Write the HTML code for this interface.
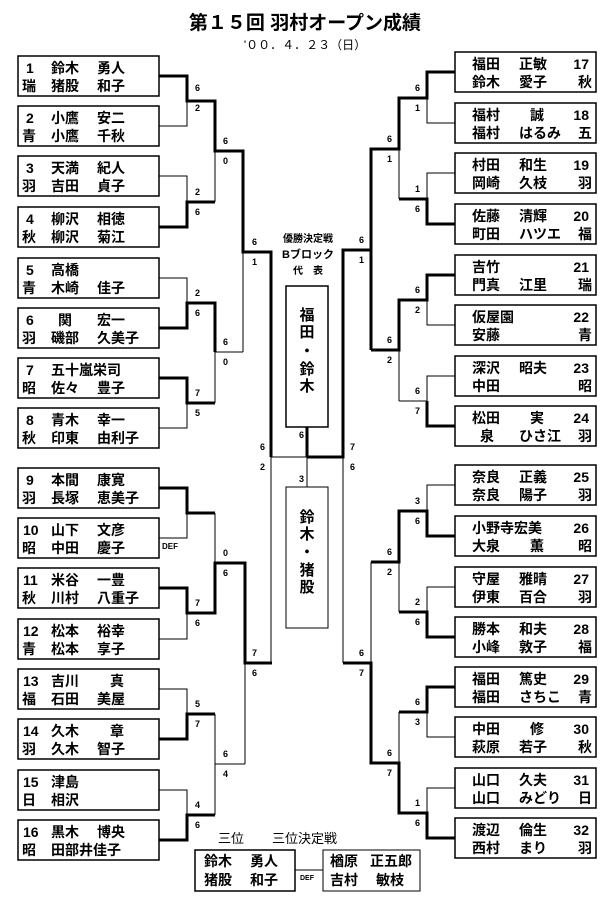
<!DOCTYPE html>
<html><head><meta charset="utf-8"><style>
html,body{margin:0;padding:0;background:#fff;}
svg{display:block;}
text{font-family:"Liberation Sans","Noto Sans CJK JP",sans-serif;fill:#000;}
.n{font-size:14px;font-weight:bold;}
.s{font-size:9px;font-weight:bold;}
.b{fill:none;stroke:#000;stroke-width:1.5;}
.t{fill:none;stroke:#000;stroke-width:1;}
.k{fill:none;stroke:#000;stroke-width:3;}
</style></head><body>
<svg width="615" height="903" viewBox="0 0 615 903" xmlns="http://www.w3.org/2000/svg">
<text x="305" y="29" text-anchor="middle" style="font-size:19px;font-weight:bold;">第１５回 羽村オープン成績</text>
<text x="305" y="49" text-anchor="middle" style="font-size:12px;">'００．４．２３（日）</text>

<!-- left boxes -->
<g class="b">
<rect x="18" y="56" width="141" height="40"/><rect x="18" y="106" width="141" height="40"/>
<rect x="18" y="156" width="141" height="40"/><rect x="18" y="207" width="141" height="40"/>
<rect x="18" y="258" width="141" height="40"/><rect x="18" y="308" width="141" height="40"/>
<rect x="18" y="358" width="141" height="40"/><rect x="18" y="408" width="141" height="40"/>
<rect x="18" y="468" width="141" height="40"/><rect x="18" y="518" width="141" height="40"/>
<rect x="18" y="568" width="141" height="40"/><rect x="18" y="619" width="141" height="40"/>
<rect x="18" y="669" width="141" height="40"/><rect x="18" y="719" width="141" height="40"/>
<rect x="18" y="770" width="141" height="40"/><rect x="18" y="820" width="141" height="40"/>
</g>
<g class="b">
<rect x="455" y="52" width="141" height="40"/><rect x="455" y="103" width="141" height="40"/>
<rect x="455" y="153" width="141" height="40"/><rect x="455" y="204" width="141" height="40"/>
<rect x="455" y="255" width="141" height="40"/><rect x="455" y="305" width="141" height="40"/>
<rect x="455" y="356" width="141" height="40"/><rect x="455" y="406" width="141" height="40"/>
<rect x="455" y="465" width="141" height="40"/><rect x="455" y="516" width="141" height="40"/>
<rect x="455" y="567" width="141" height="40"/><rect x="455" y="617" width="141" height="40"/>
<rect x="455" y="667" width="141" height="40"/><rect x="455" y="717" width="141" height="40"/>
<rect x="455" y="768" width="141" height="40"/><rect x="455" y="818" width="141" height="40"/>
</g>

<!-- left text -->
<g class="n">
<text x="26" y="73">1</text><text x="51" y="73">鈴木</text><text x="97" y="73">勇人</text>
<text x="22" y="91">瑞</text><text x="51" y="91">猪股</text><text x="97" y="91">和子</text>
<text x="26" y="123">2</text><text x="51" y="123">小鷹</text><text x="97" y="123">安二</text>
<text x="22" y="141">青</text><text x="51" y="141">小鷹</text><text x="97" y="141">千秋</text>
<text x="26" y="173">3</text><text x="51" y="173">天満</text><text x="97" y="173">紀人</text>
<text x="22" y="191">羽</text><text x="51" y="191">吉田</text><text x="97" y="191">貞子</text>
<text x="26" y="224">4</text><text x="51" y="224">柳沢</text><text x="97" y="224">相徳</text>
<text x="22" y="242">秋</text><text x="51" y="242">柳沢</text><text x="97" y="242">菊江</text>
<text x="26" y="275">5</text><text x="51" y="275">高橋</text>
<text x="22" y="293">青</text><text x="51" y="293">木崎</text><text x="97" y="293">佳子</text>
<text x="26" y="325">6</text><text x="58" y="325">関</text><text x="97" y="325">宏一</text>
<text x="22" y="343">羽</text><text x="51" y="343">磯部</text><text x="97" y="343">久美子</text>
<text x="26" y="375">7</text><text x="51" y="375">五十嵐栄司</text>
<text x="22" y="393">昭</text><text x="51" y="393">佐々</text><text x="97" y="393">豊子</text>
<text x="26" y="425">8</text><text x="51" y="425">青木</text><text x="97" y="425">幸一</text>
<text x="22" y="443">秋</text><text x="51" y="443">印東</text><text x="97" y="443">由利子</text>
<text x="26" y="485">9</text><text x="51" y="485">本間</text><text x="97" y="485">康寛</text>
<text x="22" y="503">羽</text><text x="51" y="503">長塚</text><text x="97" y="503">恵美子</text>
<text x="23" y="535">10</text><text x="51" y="535">山下</text><text x="97" y="535">文彦</text>
<text x="22" y="553">昭</text><text x="51" y="553">中田</text><text x="97" y="553">慶子</text>
<text x="23" y="585">11</text><text x="51" y="585">米谷</text><text x="97" y="585">一豊</text>
<text x="22" y="603">秋</text><text x="51" y="603">川村</text><text x="97" y="603">八重子</text>
<text x="23" y="636">12</text><text x="51" y="636">松本</text><text x="97" y="636">裕幸</text>
<text x="22" y="654">青</text><text x="51" y="654">松本</text><text x="97" y="654">享子</text>
<text x="23" y="686">13</text><text x="51" y="686">吉川</text><text x="110" y="686">真</text>
<text x="22" y="704">福</text><text x="51" y="704">石田</text><text x="97" y="704">美屋</text>
<text x="23" y="736">14</text><text x="51" y="736">久木</text><text x="110" y="736">章</text>
<text x="22" y="754">羽</text><text x="51" y="754">久木</text><text x="97" y="754">智子</text>
<text x="23" y="787">15</text><text x="51" y="787">津島</text>
<text x="22" y="805">日</text><text x="51" y="805">相沢</text>
<text x="23" y="837">16</text><text x="51" y="837">黒木</text><text x="97" y="837">博央</text>
<text x="22" y="855">昭</text><text x="51" y="855">田部井佳子</text>
</g>

<!-- right text -->
<g class="n">
<text x="472" y="69">福田</text><text x="519" y="69">正敏</text><text x="589" y="69" text-anchor="end">17</text>
<text x="472" y="87">鈴木</text><text x="519" y="87">愛子</text><text x="578" y="87">秋</text>
<text x="472" y="120">福村</text><text x="530" y="120">誠</text><text x="589" y="120" text-anchor="end">18</text>
<text x="472" y="138">福村</text><text x="519" y="138">はるみ</text><text x="578" y="138">五</text>
<text x="472" y="170">村田</text><text x="519" y="170">和生</text><text x="589" y="170" text-anchor="end">19</text>
<text x="472" y="188">岡崎</text><text x="519" y="188">久枝</text><text x="578" y="188">羽</text>
<text x="472" y="221">佐藤</text><text x="519" y="221">清輝</text><text x="589" y="221" text-anchor="end">20</text>
<text x="472" y="239">町田</text><text x="519" y="239">ハツエ</text><text x="578" y="239">福</text>
<text x="472" y="272">吉竹</text><text x="589" y="272" text-anchor="end">21</text>
<text x="472" y="290">門真</text><text x="519" y="290">江里</text><text x="578" y="290">瑞</text>
<text x="472" y="322">仮屋園</text><text x="589" y="322" text-anchor="end">22</text>
<text x="472" y="340">安藤</text><text x="578" y="340">青</text>
<text x="472" y="373">深沢</text><text x="519" y="373">昭夫</text><text x="589" y="373" text-anchor="end">23</text>
<text x="472" y="391">中田</text><text x="578" y="391">昭</text>
<text x="472" y="423">松田</text><text x="530" y="423">実</text><text x="589" y="423" text-anchor="end">24</text>
<text x="480" y="441">泉</text><text x="519" y="441">ひさ江</text><text x="578" y="441">羽</text>
<text x="472" y="482">奈良</text><text x="519" y="482">正義</text><text x="589" y="482" text-anchor="end">25</text>
<text x="472" y="500">奈良</text><text x="519" y="500">陽子</text><text x="578" y="500">羽</text>
<text x="472" y="533">小野寺宏美</text><text x="589" y="533" text-anchor="end">26</text>
<text x="472" y="551">大泉</text><text x="530" y="551">薫</text><text x="578" y="551">昭</text>
<text x="472" y="584">守屋</text><text x="519" y="584">雅晴</text><text x="589" y="584" text-anchor="end">27</text>
<text x="472" y="602">伊東</text><text x="519" y="602">百合</text><text x="578" y="602">羽</text>
<text x="472" y="634">勝本</text><text x="519" y="634">和夫</text><text x="589" y="634" text-anchor="end">28</text>
<text x="472" y="652">小峰</text><text x="519" y="652">敦子</text><text x="578" y="652">福</text>
<text x="472" y="684">福田</text><text x="519" y="684">篤史</text><text x="589" y="684" text-anchor="end">29</text>
<text x="472" y="702">福田</text><text x="519" y="702">さちこ</text><text x="578" y="702">青</text>
<text x="472" y="734">中田</text><text x="530" y="734">修</text><text x="589" y="734" text-anchor="end">30</text>
<text x="472" y="752">萩原</text><text x="519" y="752">若子</text><text x="578" y="752">秋</text>
<text x="472" y="785">山口</text><text x="519" y="785">久夫</text><text x="589" y="785" text-anchor="end">31</text>
<text x="472" y="803">山口</text><text x="519" y="803">みどり</text><text x="578" y="803">日</text>
<text x="472" y="835">渡辺</text><text x="519" y="835">倫生</text><text x="589" y="835" text-anchor="end">32</text>
<text x="472" y="853">西村</text><text x="519" y="853">まり</text><text x="578" y="853">羽</text>
</g>

<!-- left bracket lines -->
<g class="t">
<path d="M159 126H187V101"/><path d="M159 176H187V202"/><path d="M159 278H187V303"/>
<path d="M159 428H187V403"/><path d="M159 538H187V513"/><path d="M159 639H187V613"/>
<path d="M159 689H187V714"/><path d="M159 790H187V815"/>
<path d="M215 151V202"/><path d="M215 352V403"/><path d="M215 352H243"/>
<path d="M215 513V563"/><path d="M215 714V815"/><path d="M215 764H245"/>
<path d="M243 252V352"/><path d="M245 663V764"/>
<path d="M271 457V663"/><path d="M271 457H307"/>
</g>
<g class="k">
<path d="M159 76H187V101H215V151H243V252H271V457"/>
<path d="M159 227H187V202H215"/>
<path d="M159 328H187V303H215V352"/>
<path d="M159 378H187V403H215"/>
<path d="M159 488H187V513H215"/>
<path d="M159 588H187V613H215V563H245V663H272"/>
<path d="M159 739H187V714H215"/>
<path d="M159 840H187V815H215"/>
</g>

<!-- right bracket lines -->
<g class="t">
<path d="M455 123H427V98"/><path d="M455 173H427V199"/><path d="M455 325H427V300"/>
<path d="M455 376H427V401H399"/><path d="M455 485H427V511"/><path d="M455 587H427V612"/>
<path d="M455 737H427V712"/><path d="M455 788H427V813"/>
<path d="M399 149V199"/><path d="M399 350V401"/><path d="M399 562V612"/><path d="M399 712V763"/>
<path d="M371 562V663"/><path d="M343 457V663"/>
</g>
<g class="k">
<path d="M455 72H427V98H399V149H371V250H343V457H307"/>
<path d="M455 224H427V199H399"/>
<path d="M455 275H427V300H399V350H371"/>
<path d="M455 426H427V401"/>
<path d="M455 536H427V511H399V562H371"/>
<path d="M455 637H427V612H399"/>
<path d="M455 687H427V712H399"/>
<path d="M455 838H427V813H399V763H371V663H343"/>
<path d="M371 149V350"/>
<path d="M307 427V457"/>
</g>
<path class="t" d="M307 457V487"/>

<!-- center -->
<text x="308" y="242" text-anchor="middle" style="font-size:10px;font-weight:bold;">優勝決定戦</text>
<text x="308" y="258" text-anchor="middle" style="font-size:11px;font-weight:bold;">Bブロック</text>
<text x="308" y="274" text-anchor="middle" style="font-size:10px;font-weight:bold;">代　表</text>
<rect x="286" y="286" width="42" height="141" class="b"/>
<g class="n" text-anchor="middle" style="font-size:15px">
<text x="307" y="320">福</text><text x="307" y="337">田</text><text x="307" y="356">・</text><text x="307" y="374">鈴</text><text x="307" y="391">木</text>
</g>
<rect x="286" y="487" width="42" height="141" class="t"/>
<g class="n" text-anchor="middle" style="font-size:15px">
<text x="307" y="522">鈴</text><text x="307" y="539">木</text><text x="307" y="557">・</text><text x="307" y="575">猪</text><text x="307" y="592">股</text>
</g>

<!-- scores -->
<g class="s">
<text x="195" y="91">6</text><text x="195" y="111">2</text>
<text x="195" y="195">2</text><text x="195" y="215">6</text>
<text x="195" y="296">2</text><text x="195" y="316">6</text>
<text x="195" y="396">7</text><text x="195" y="416">5</text>
<text x="195" y="606">7</text><text x="195" y="626">6</text>
<text x="195" y="707">5</text><text x="195" y="727">7</text>
<text x="195" y="808">4</text><text x="195" y="828">6</text>
<text x="162" y="549" style="font-size:8px">DEF</text>
<text x="223" y="144">6</text><text x="223" y="164">0</text>
<text x="223" y="345">6</text><text x="223" y="365">0</text>
<text x="223" y="556">0</text><text x="223" y="576">6</text>
<text x="223" y="757">6</text><text x="223" y="777">4</text>
<text x="252" y="245">6</text><text x="252" y="265">1</text>
<text x="252" y="656">7</text><text x="252" y="676">6</text>
<text x="260" y="450">6</text><text x="260" y="470">2</text>
<text x="415" y="91">6</text><text x="415" y="111">1</text>
<text x="415" y="192">1</text><text x="415" y="212">6</text>
<text x="415" y="293">6</text><text x="415" y="313">2</text>
<text x="415" y="394">6</text><text x="415" y="414">7</text>
<text x="415" y="504">3</text><text x="415" y="524">6</text>
<text x="415" y="605">2</text><text x="415" y="625">6</text>
<text x="415" y="705">6</text><text x="415" y="725">3</text>
<text x="415" y="806">1</text><text x="415" y="826">6</text>
<text x="387" y="142">6</text><text x="387" y="162">1</text>
<text x="387" y="343">6</text><text x="387" y="363">2</text>
<text x="387" y="555">6</text><text x="387" y="575">2</text>
<text x="387" y="756">6</text><text x="387" y="776">7</text>
<text x="359" y="243">6</text><text x="359" y="263">1</text>
<text x="359" y="656">6</text><text x="359" y="676">7</text>
<text x="350" y="450">7</text><text x="350" y="470">6</text>
<text x="299" y="438">6</text><text x="299" y="482">3</text>
</g>

<!-- third place -->
<text x="218" y="843" style="font-size:13px;">三位</text>
<text x="272" y="843" style="font-size:13px;">三位決定戦</text>
<rect x="195" y="850" width="100" height="41" class="b"/>
<g class="n">
<text x="204" y="866">鈴木</text><text x="250" y="866">勇人</text>
<text x="204" y="885">猪股</text><text x="250" y="885">和子</text>
</g>
<path class="t" d="M295 870H323"/>
<text x="300" y="880" style="font-size:7px;font-weight:bold;">DEF</text>
<rect x="323" y="850" width="97" height="41" class="t"/>
<g class="n">
<text x="330" y="866">楢原</text><text x="370" y="866">正五郎</text>
<text x="330" y="885">吉村</text><text x="376" y="885">敏枝</text>
</g>
</svg>
</body></html>
